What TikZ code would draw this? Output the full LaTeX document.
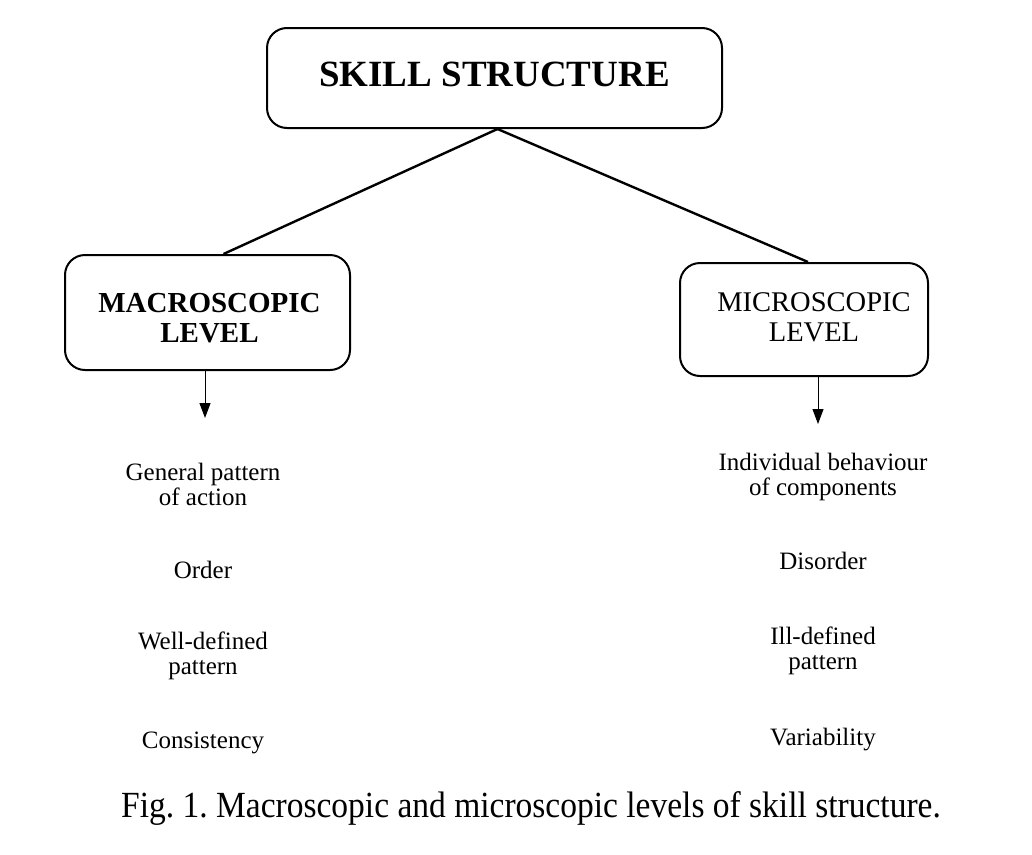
\documentclass[tikz,border=0pt]{standalone}
\usepackage{fontspec}
\setmainfont{Liberation Serif}
\usetikzlibrary{arrows.meta,calc}
\tikzset{
  box/.style={draw, line width=2pt, rounded corners=20pt, inner sep=0pt},
  lbl/.style={align=center, inner sep=0pt},
  conn/.style={line width=2.4pt},
  arr/.style={line width=1pt, -{Triangle[length=15pt,width=11pt]}},
  item/.style={align=center, font=\fontsize{25}{25}\selectfont, inner sep=0pt},
}
\begin{document}
\frenchspacing
\begin{tikzpicture}[x=1pt,y=-1pt]
\useasboundingbox (0,0) rectangle (1032,854);
% boxes
\node[box, minimum width=455pt, minimum height=100pt] (top) at (494.5,78) {};
\node[lbl, font=\fontsize{37}{39}\selectfont\bfseries] (topt) at ($(top.center)+(0,-4)$) {SKILL STRUCTURE};
\node[box, minimum width=285pt, minimum height=115pt] (macro) at (207.5,312.5) {};
\node[lbl, font=\fontsize{29}{30}\selectfont\bfseries] (macrot) at ($(macro.center)+(2,6)$) {MACROSCOPIC\\LEVEL};
\node[box, minimum width=248pt, minimum height=113pt] (micro) at (804,319.5) {};
\node[lbl, font=\fontsize{28.5}{30}\selectfont] (microt) at ($(micro.center)+(10,-2)$) {MICROSCOPIC\\LEVEL};
% connectors
\coordinate (apex) at ($(top.south)+(3,0)$);
\draw[conn] (apex) -- ($(macro.north)+(16,0)$);
\draw[conn] (apex) -- ($(micro.north)+(4,0)$);
\coordinate (ltip) at (205,418);
\coordinate (rtip) at (818,424);
\draw[arr] (macro.south -| ltip) -- (ltip);
\draw[arr] (micro.south -| rtip) -- (rtip);
% items
\node[item] (l1) at (203,484) {General pattern\\of action};
\node[item] (l2) at (203,570) {Order};
\node[item] (l3) at (203,656) {Well-defined\\pattern};
\node[item] (l4) at (203,743) {Consistency};
\node[item] (r1) at (823,477) {Individual behaviour\\of components};
\node[item] (r2) at (823,561) {Disorder};
\node[item] (r3) at (823,651) {Ill-defined\\pattern};
\node[item] (r4) at (823,740) {Variability};
% caption
\node[inner sep=0pt, font=\fontsize{33.5}{35}\selectfont] (cap) at (531,808) {\scalebox{1}[1.1]{Fig. 1. Macroscopic and microscopic levels of skill structure.}};
\end{tikzpicture}
\end{document}
